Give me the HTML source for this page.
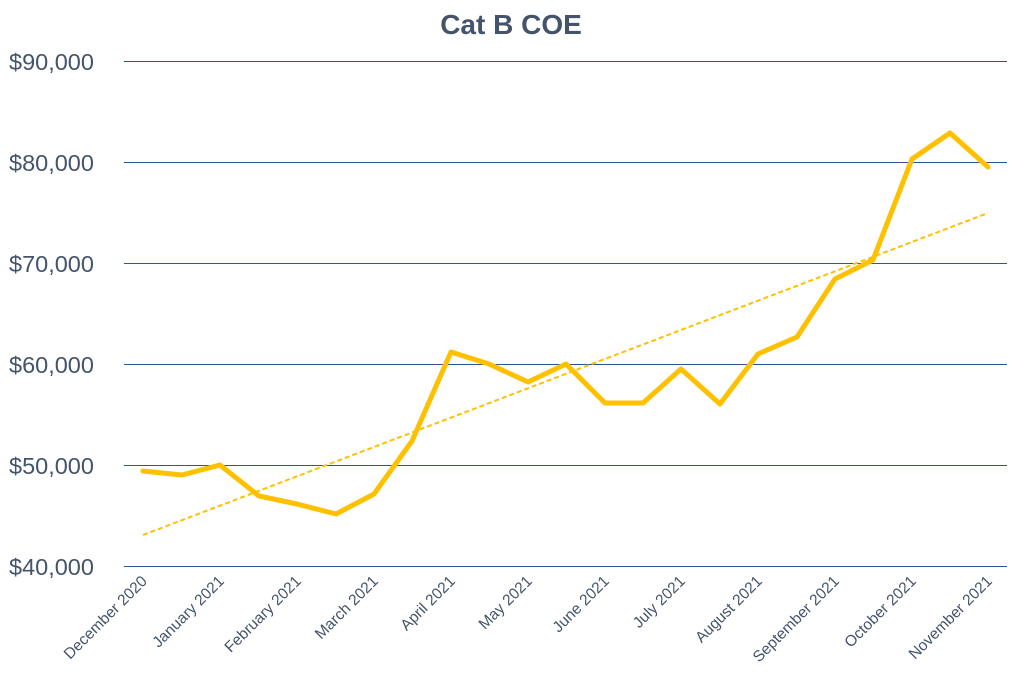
<!DOCTYPE html>
<html><head><style>body{margin:0;background:#fff}svg{display:block}</style></head>
<body>
<svg width="1024" height="683" xmlns="http://www.w3.org/2000/svg" font-family="Liberation Sans, Arial, sans-serif">
<rect width="1024" height="683" fill="#fff"/>
<text x="511" y="34" text-anchor="middle" font-size="28" font-weight="bold" fill="#44546a">Cat B COE</text>
<g stroke="#2f5597" stroke-width="1">
<line x1="124" y1="61.5" x2="1007" y2="61.5"/>
<line x1="124" y1="162.5" x2="1007" y2="162.5"/>
<line x1="124" y1="263.5" x2="1007" y2="263.5"/>
<line x1="124" y1="364.5" x2="1007" y2="364.5"/>
<line x1="124" y1="465.5" x2="1007" y2="465.5"/>
<line x1="124" y1="566.5" x2="1007" y2="566.5"/>
</g>
<g font-size="23.5" fill="#44546a">
<text x="9" y="70">$90,000</text>
<text x="9" y="171">$80,000</text>
<text x="9" y="272">$70,000</text>
<text x="9" y="373">$60,000</text>
<text x="9" y="474">$50,000</text>
<text x="9" y="575">$40,000</text>
</g>
<g font-size="15.5" fill="#44546a" text-anchor="end">
<text transform="translate(148,582) rotate(-45)">December 2020</text>
<text transform="translate(225,582) rotate(-45)">January 2021</text>
<text transform="translate(302,582) rotate(-45)">February 2021</text>
<text transform="translate(379,582) rotate(-45)">March 2021</text>
<text transform="translate(456,582) rotate(-45)">April 2021</text>
<text transform="translate(533,582) rotate(-45)">May 2021</text>
<text transform="translate(610,582) rotate(-45)">June 2021</text>
<text transform="translate(686,582) rotate(-45)">July 2021</text>
<text transform="translate(763,582) rotate(-45)">August 2021</text>
<text transform="translate(840,582) rotate(-45)">September 2021</text>
<text transform="translate(917,582) rotate(-45)">October 2021</text>
<text transform="translate(993,582) rotate(-45)">November 2021</text>
</g>
<line x1="143" y1="535" x2="988" y2="213" stroke="#ffc000" stroke-width="2" stroke-dasharray="5,3"/>
<polyline fill="none" stroke="#ffc000" stroke-width="5" stroke-linejoin="round" stroke-linecap="round"
points="143,471 182,475 220,465 259,496 297,504 336,514 374,494 412,441 451,352 489,364 528,382 566,364 605,403 643,403 681,369 720,404 758,354 797,337 835,279 873,260 912,159 950,133 988,167"/>
</svg>
</body></html>
